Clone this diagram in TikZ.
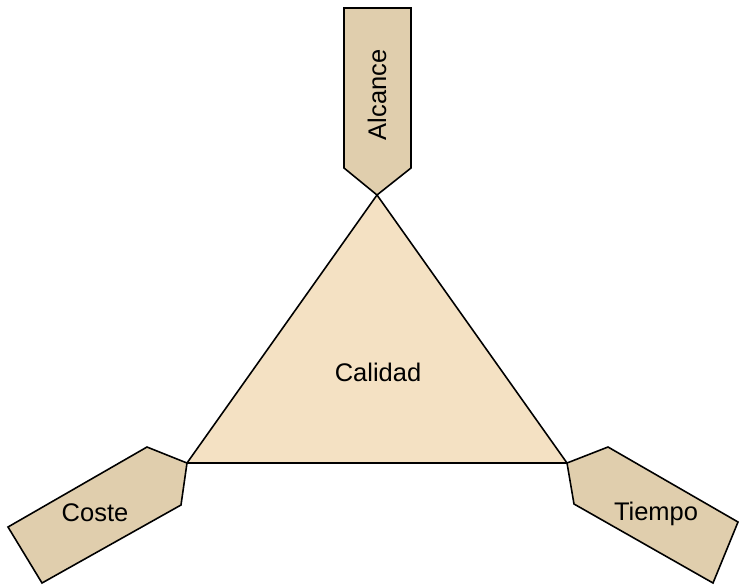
\documentclass[tikz,border=0pt]{standalone}
\usepackage{fontspec}
\setmainfont{Liberation Sans}
\usepackage{xcolor}
\definecolor{tanfill}{HTML}{F4E1C3}
\definecolor{tagfill}{HTML}{E0CEAD}
\begin{document}
\begin{tikzpicture}[x=0.02cm, y=-0.02cm, line join=miter,
    tag/.style={draw=black, line width=0.9pt, fill=tagfill},
    label/.style={font=\fontsize{14.5}{17}\selectfont}]
        \useasboundingbox (0,0) rectangle (739,584);
        % triangle
        \draw[line width=0.9pt, fill=tanfill] (377,195) -- (567,463) -- (187,463) -- cycle;
        \node[label] (calidad) at (378,372) {Calidad};
        % three tags
        \draw[tag] (377,195) -- (344,168) -- (344,8) -- (411,8) -- (411,168) -- cycle;
        \draw[tag] (187,463) -- (147,447) -- (8,527) -- (42,583) -- (181,505) -- cycle;
        \draw[tag] (567,463) -- (608,447) -- (738,522) -- (713,583) -- (574,504) -- cycle;
        \node[label, rotate=90] (alcance) at (377,95) {Alcance};
        \node[label] (coste) at (95,513) {Coste};
        \node[label] (tiempo) at (656,514) {Tiempo};
    \end{tikzpicture}
\end{document}
